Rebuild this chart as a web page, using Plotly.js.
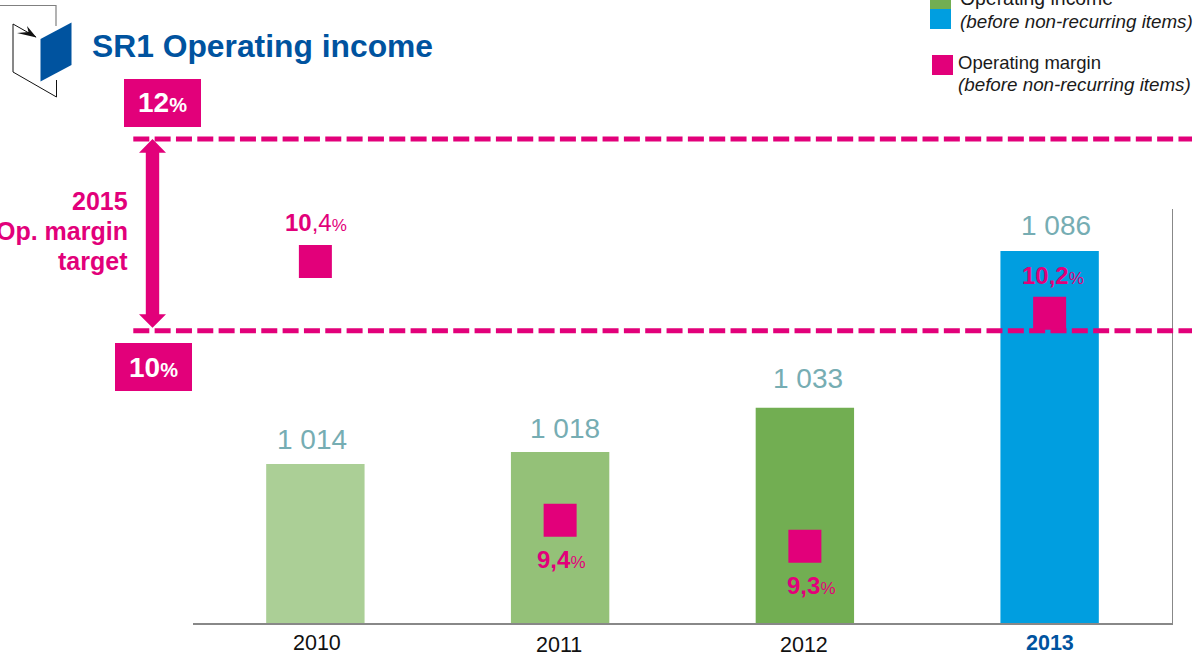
<!DOCTYPE html>
<html>
<head>
<meta charset="utf-8">
<script src="https://cdn.plot.ly/plotly-3.0.1.min.js"></script>
<style>html,body{margin:0;padding:0;background:#fff}#c{width:1202px;height:659px}</style>
</head>
<body>
<div id="c"></div>
<script>
// --- data ---
var categories = ['2010', '2011', '2012', '2013'];
var incomeValues = [1014, 1018, 1033, 1086];
var incomeLabels = ['1 014', '1 018', '1 033', '1 086'];
var marginValues = [10.4, 9.4, 9.3, 10.2];
var marginIntPart = ['10', '9,4', '9,3', '10,2'];
var marginRestPart = [',4', '', '', ''];
var barColors = ['#ABCF96', '#94C178', '#72AE52', '#009EE0'];
var incomeLabelGap = [8, 7, 13, 9];
var incomeLabelShift = [-3, 4.5, 3, 6];
var tickLabelShift = [2, -1, -1, 0];
var marginLabelPos = [[316, 222.5], [561, 559], [811, 585.5], [1053, 275.5]];
var tickLabelY = [643, 645, 645, 643];

// --- page geometry ---
var W = 1202, H = 659;
var L = 193, R = 1172, T = 209, B = 623;
var PINK = '#E2007A', BLUE = '#00539F', TEAL = '#76ADB3', GRAY = '#888888';
var FONT = 'Liberation Sans';
function px(x) { return (x - L) / (R - L); }
function py(y) { return (B - y) / (B - T); }

function note(x, y, text, size, color, anchor, extra) {
  var a = {xref: 'paper', yref: 'paper', x: px(x), y: py(y), text: text, showarrow: false,
    xanchor: anchor || 'center', yanchor: 'middle', borderpad: 0,
    font: {family: FONT, size: size, color: color}};
  for (var k in extra || {}) a[k] = extra[k];
  return a;
}
function rect(x0, y0, x1, y1, color) {
  return {type: 'rect', xref: 'paper', yref: 'paper', x0: px(x0), x1: px(x1), y0: py(y0), y1: py(y1),
    fillcolor: color, line: {width: 0}};
}
function poly(pts, fill, lineColor, lineWidth, close) {
  var d = pts.map(function (p, i) { return (i ? 'L' : 'M') + px(p[0]) + ',' + py(p[1]); }).join(' ') + (close ? ' Z' : '');
  return {type: 'path', xref: 'paper', yref: 'paper', path: d, fillcolor: fill,
    line: {color: lineColor || 'rgba(0,0,0,0)', width: lineWidth || 0}};
}
function dashed(y) {
  return {type: 'line', xref: 'paper', yref: 'paper', x0: px(133.3), x1: px(1192), y0: py(y), y1: py(y),
    line: {color: PINK, width: 5, dash: '16px,5.33px'}};
}

var annotations = [];
categories.forEach(function (c, i) {
  annotations.push({xref: 'x', yref: 'y', x: i, y: incomeValues[i], yanchor: 'bottom',
    yshift: incomeLabelGap[i], xshift: incomeLabelShift[i],
    text: incomeLabels[i], showarrow: false, borderpad: 0,
    font: {family: FONT, size: 28, color: TEAL}});
  var t = '<b>' + marginIntPart[i] + '</b>' + marginRestPart[i] + '<span style="font-size:17px">%</span>';
  annotations.push(note(marginLabelPos[i][0], marginLabelPos[i][1], t, 24, PINK));
  var bold = i === 3;
  annotations.push({xref: 'x', yref: 'paper', x: i, y: py(tickLabelY[i]), yanchor: 'middle', xshift: tickLabelShift[i],
    text: bold ? '<b>' + c + '</b>' : c, showarrow: false, borderpad: 0,
    font: {family: FONT, size: 21.5, color: bold ? BLUE : '#111111'}});
});
annotations.push(
  note(90.5, 46, '<b>SR1 Operating income</b>', 31.8, BLUE, 'left'),
  note(162.5, 103, '<b>12<span style="font-size:20px">%</span></b>', 28, '#FFFFFF'),
  note(153.5, 367, '<b>10<span style="font-size:20px">%</span></b>', 28, '#FFFFFF'),
  note(129, 201, '<b>2015</b>', 25, PINK, 'right'),
  note(129, 231, '<b>Op. margin</b>', 25, PINK, 'right'),
  note(129, 261, '<b>target</b>', 25, PINK, 'right'),
  note(959, -2, 'Operating income', 19.4, '#1A1A1A', 'left'),
  note(959, 21, '<i>(before non-recurring items)</i>', 18.8, '#1A1A1A', 'left'),
  note(957, 62, 'Operating margin', 18.5, '#1A1A1A', 'left'),
  note(957, 84, '<i>(before non-recurring items)</i>', 18.8, '#1A1A1A', 'left')
);

var shapes = [
  rect(124, 79, 201, 127, PINK),
  rect(115, 343, 192, 391, PINK),
  dashed(139),
  dashed(330.7),
  poly([[152.5, 139], [166, 152.7], [159.2, 152.7], [159.2, 314.3], [166, 314.3], [152.5, 327.7],
        [139, 314.3], [145.8, 314.3], [145.8, 152.7], [139, 152.7]], PINK, null, 0, true),
  rect(930, -5, 951, 9, '#72AE52'),
  rect(930, 9, 951, 29, '#009EE0'),
  rect(932, 55, 953, 75, PINK),
  poly([[0, 5.5], [56, 5.5], [56, 26]], 'rgba(0,0,0,0)', '#808080', 1.2, false),
  poly([[13, 24], [13, 72], [56.5, 97], [56.5, 80]], 'rgba(0,0,0,0)', '#111111', 1, false),
  poly([[13, 24], [36, 37]], 'rgba(0,0,0,0)', '#111111', 1, false),
  poly([[36.5, 37.5], [27, 26], [28.5, 32], [17, 33]], '#111111', null, 0, true),
  poly([[40.5, 39], [71.5, 22.5], [71.5, 65], [40.5, 81.5]], '#00539F', null, 0, true)
];

var traces = [
  {type: 'bar', x: categories, y: incomeValues, width: 0.402, marker: {color: barColors, line: {width: 0}},
   hoverinfo: 'skip', name: 'Operating income'},
  {type: 'scatter', mode: 'markers', x: categories, y: marginValues, yaxis: 'y2', cliponaxis: false,
   marker: {symbol: 'square', size: 33, color: PINK, line: {width: 0}}, hoverinfo: 'skip', name: 'Operating margin'}
];

var layout = {
  width: W, height: H, showlegend: false, paper_bgcolor: '#fff', plot_bgcolor: '#fff',
  margin: {l: L, r: W - R, t: T, b: H - B, pad: 0},
  xaxis: {type: 'category', categoryorder: 'array', categoryarray: categories, range: [-0.5, 3.5], showticklabels: false, ticks: '',
    showgrid: false, zeroline: false, showline: true, linecolor: GRAY, linewidth: 1.5},
  yaxis: {range: [960.2, 1100.2], visible: false, showgrid: false, zeroline: false},
  yaxis2: {range: [9.003, 10.603], overlaying: 'y', side: 'right', showgrid: false, zeroline: false, showticklabels: false,
    ticks: '', showline: true, linecolor: GRAY, linewidth: 1.2},
  shapes: shapes, annotations: annotations
};
Plotly.newPlot('c', traces, layout, {staticPlot: true, displayModeBar: false});
</script>
</body>
</html>
